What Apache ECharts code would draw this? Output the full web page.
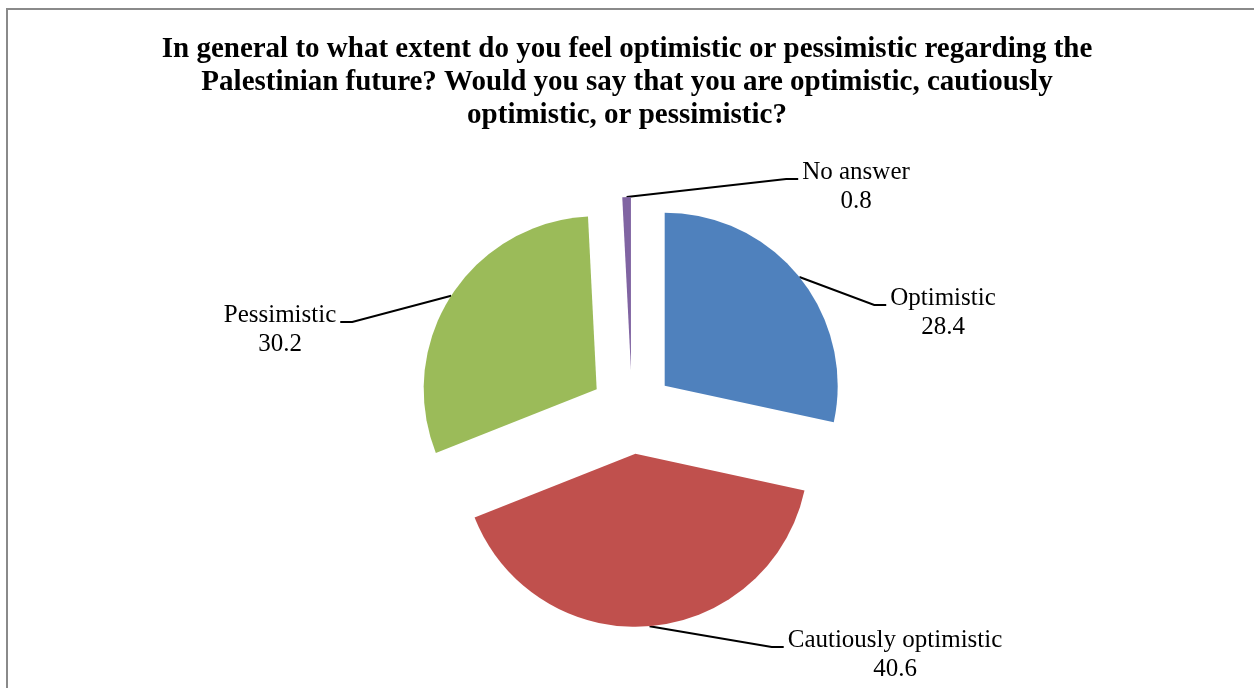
<!DOCTYPE html>
<html><head><meta charset="utf-8">
<script src="https://cdn.jsdelivr.net/npm/echarts@6/dist/echarts.min.js"></script>
<style>html,body{margin:0;padding:0;background:#fff}#c{width:1254px;height:688px}</style>
</head><body><div id="c"></div>
<script>
const categories = ['Optimistic', 'Cautiously optimistic', 'Pessimistic', 'No answer'];
const values = [28.4, 40.6, 30.2, 0.8];
const titleLines = [
  'In general to what extent do you feel optimistic or pessimistic regarding the',
  'Palestinian future? Would you say that you are optimistic, cautiously',
  'optimistic, or pessimistic?'
];

const colors = ['#4F81BD', '#C0504D', '#9BBB59', '#8064A2'];
const CX = 632, CY = 412, R = 173, EXPLODE = 42;
// label block layout: center x, top y, side of pie
const labelPos = [[943, 284, 'right'], [895, 626, 'right'], [280, 301, 'left'], [856, 158, 'right']];

const total = values.reduce((a, b) => a + b, 0);
let cum = 0;
const series = values.map((v, i) => {
  const mid = (cum + v / 2) / total * 2 * Math.PI;
  cum += v;
  const cx = CX + EXPLODE * Math.sin(mid), cy = CY - EXPLODE * Math.cos(mid);
  return {
    type: 'pie', silent: true, animation: false, startAngle: 90, clockwise: true,
    center: [cx, cy], radius: [0, R], avoidLabelOverlap: false,
    data: categories.map((name, j) => ({
      name, value: values[j],
      itemStyle: { color: j === i ? colors[j] : 'rgba(0,0,0,0)', borderWidth: 0 },
      label: { show: j === i }, labelLine: { show: j === i }
    })),
    itemStyle: { borderWidth: 0 },
    label: { position: 'outside', formatter: '{b}\n{c}', fontFamily: 'Liberation Serif', fontSize: 25, lineHeight: 29, color: '#000' },
    labelLine: { show: true, length: 20, length2: 10, smooth: false, lineStyle: { color: '#000', width: 2 } },
    emphasis: { disabled: true },
    labelLayout: function (p) {
      const lp = labelPos[p.dataIndex];
      const x = lp[0], top = lp[1], side = lp[2];
      const w = p.labelRect.width;
      const s = p.labelLinePoints ? p.labelLinePoints[0] : [x, top];
      const ey = top + 21;
      const ex = side === 'right' ? x - w / 2 - 4 : x + w / 2 + 4;
      const kx = side === 'right' ? ex - 12 : ex + 12;
      return { x: x, y: top, align: 'center', verticalAlign: 'top', labelLinePoints: [s, [kx, ey], [ex, ey]] };
    }
  };
});

const chart = echarts.init(document.getElementById('c'), null, { renderer: 'canvas' });
chart.setOption({
  animation: false,
  backgroundColor: '#fff',
  title: {
    text: titleLines.join('\n'), left: 'center', top: 33, padding: [0, 0, 0, 10],
    textStyle: { fontFamily: 'Liberation Serif', fontWeight: 'bold', fontSize: 29, lineHeight: 33, color: '#000' }
  },
  graphic: [{
    type: 'polyline', silent: true,
    shape: { points: [[7, 700], [7, 9], [1260, 9]] },
    style: { stroke: '#8a8a8a', lineWidth: 2, fill: null }
  }],
  series: series
});
</script></body></html>
